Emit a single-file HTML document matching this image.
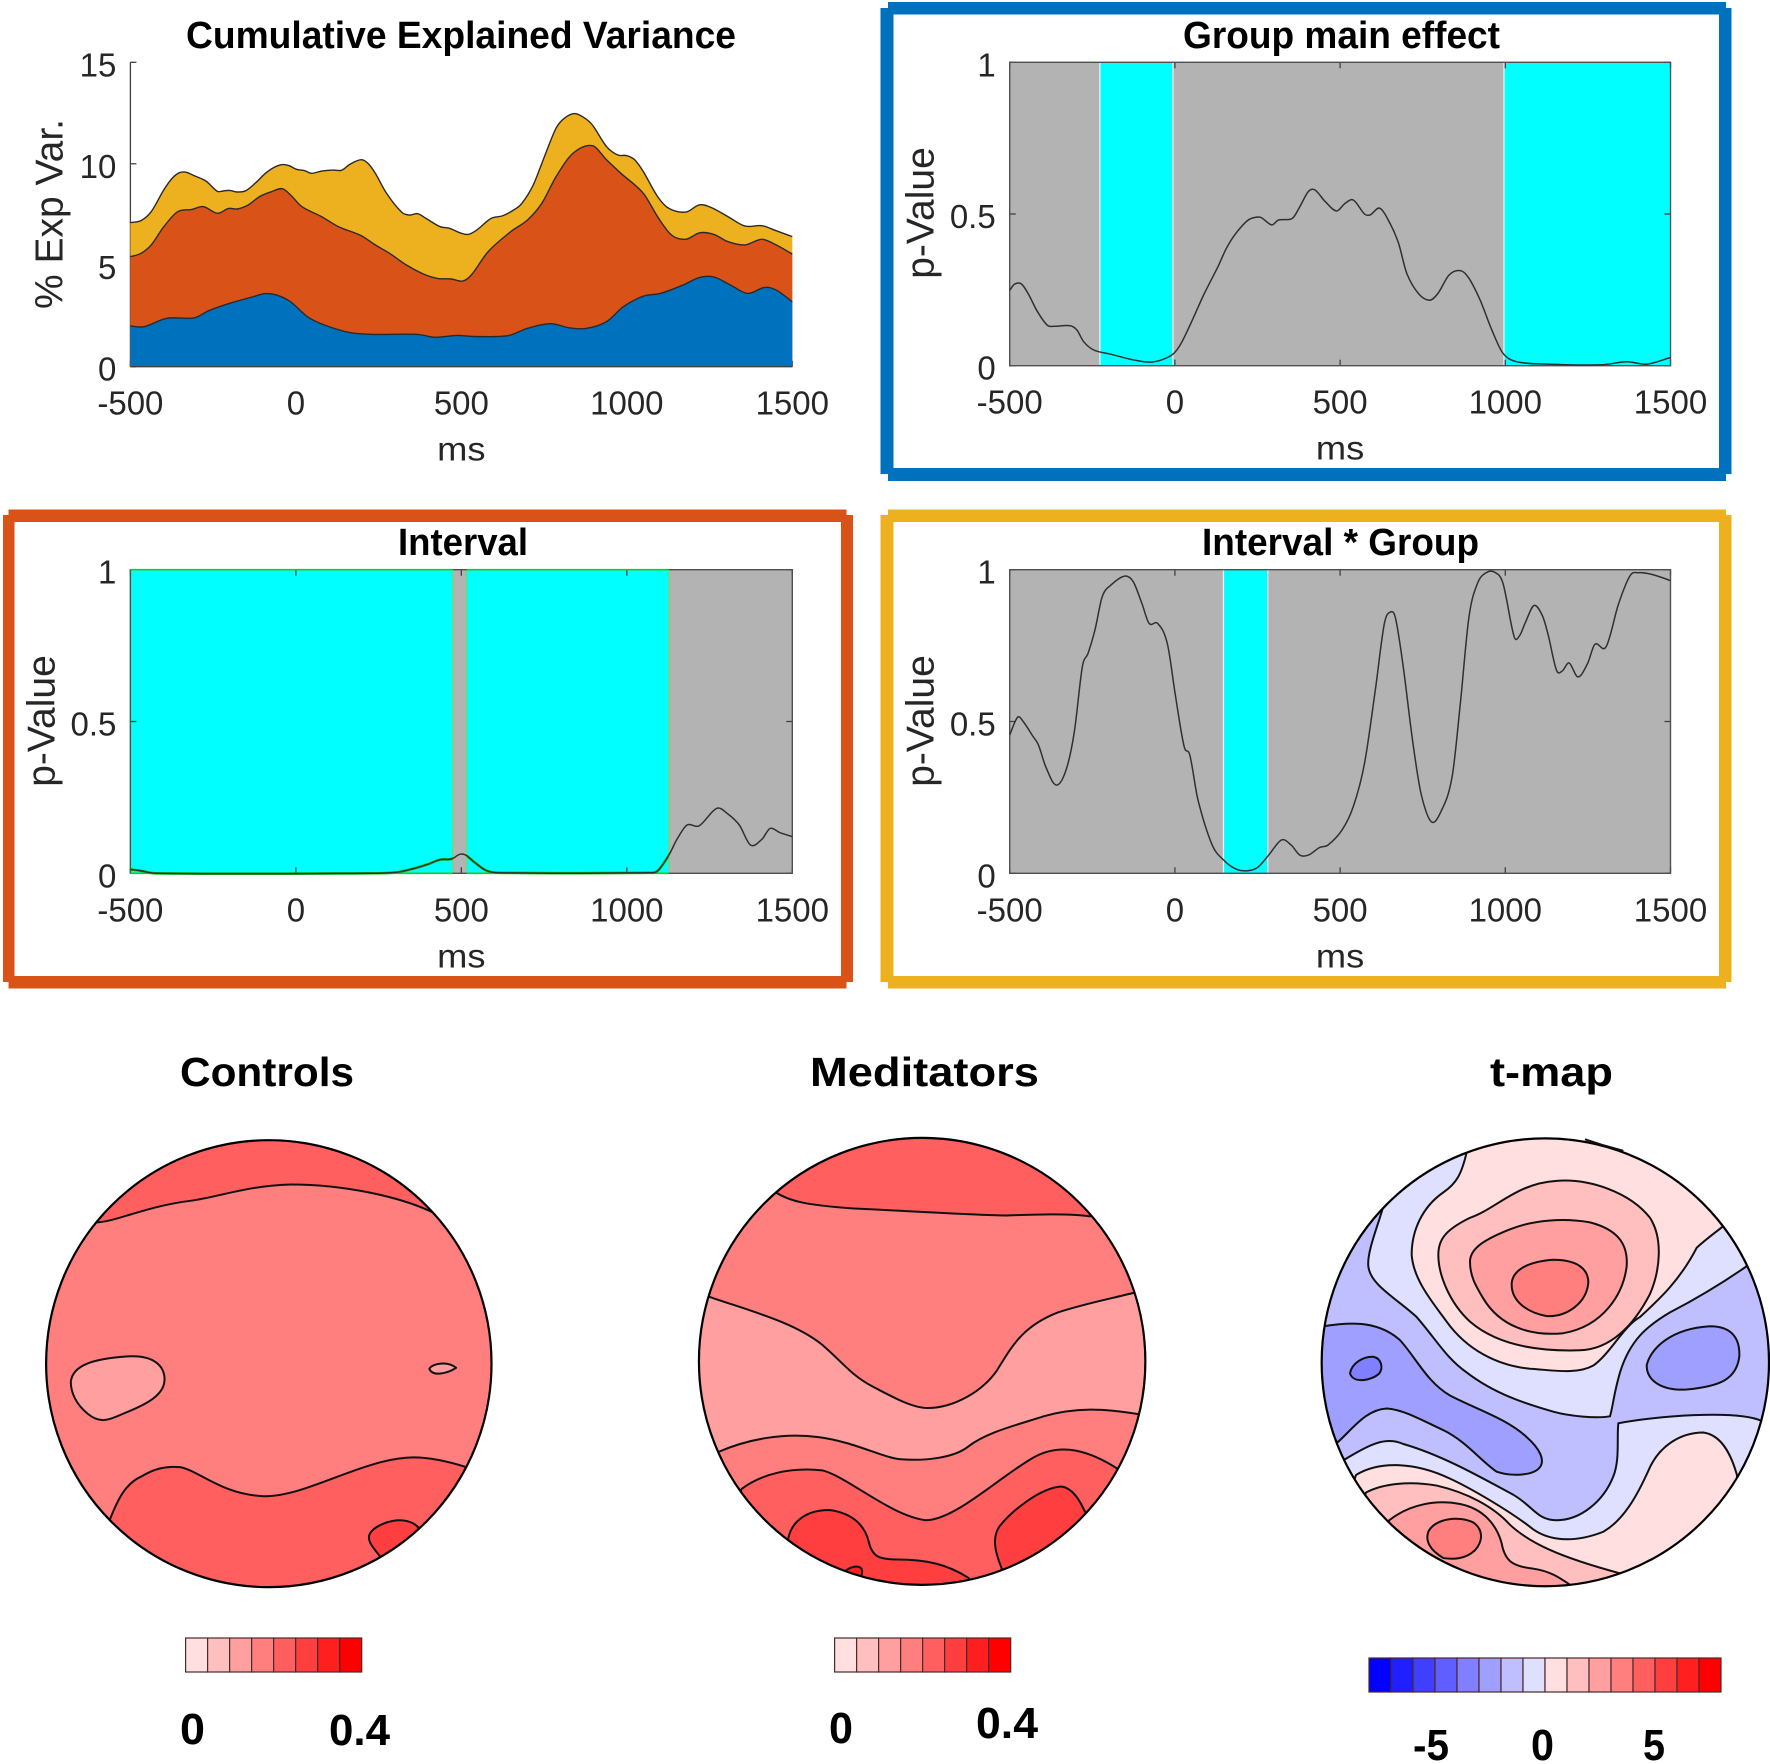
<!DOCTYPE html>
<html lang="en">
<head>
<meta charset="utf-8">
<title>Cumulative explained variance and topographic maps</title>
<style>
html,body{margin:0;padding:0;background:#fff;}
svg{display:block;font-family:"Liberation Sans",Arial,sans-serif;}
.contour{stroke:#111;stroke-width:2;vector-effect:non-scaling-stroke;stroke-linejoin:round;}
.rim{fill:none;stroke:#000;stroke-width:2.2;vector-effect:non-scaling-stroke;}
</style>
</head>
<body>
<svg id="figure" xmlns="http://www.w3.org/2000/svg" width="1770" height="1764" viewBox="0 0 1770 1764">
  <rect x="0" y="0" width="1770" height="1764" fill="#fff"/>

  <g fill="#0072BD">
    <rect x="888" y="2" width="838" height="12.5"/>
    <rect x="888" y="468" width="838" height="13"/>
    <rect x="880.5" y="8" width="13" height="466"/>
    <rect x="1719" y="8" width="12.5" height="466"/>
  </g>
  <g fill="#D95319">
    <rect x="8.5" y="509.5" width="838" height="12.5"/>
    <rect x="8.5" y="976" width="838" height="12.5"/>
    <rect x="3" y="515" width="11.5" height="467"/>
    <rect x="841" y="515" width="12" height="467"/>
  </g>
  <g fill="#EDB120">
    <rect x="888" y="509.5" width="838" height="12.5"/>
    <rect x="888" y="976" width="838" height="12.5"/>
    <rect x="880.5" y="515" width="13" height="467"/>
    <rect x="1719" y="515" width="12.5" height="467"/>
  </g>

  <g id="charts"></g>

  <defs>
    <clipPath id="clip-controls"><ellipse cx="702.5" cy="701" rx="582" ry="484"/></clipPath>
    <clipPath id="clip-meditators"><ellipse cx="790" cy="696" rx="625" ry="484"/></clipPath>
    <clipPath id="clip-tmap"><ellipse cx="826" cy="698" rx="671" ry="485"/></clipPath>
  </defs>

  <g transform="translate(0,1040) scale(0.38265,0.46173)">
    <g clip-path="url(#clip-controls)">
      <ellipse cx="702.5" cy="701" rx="582" ry="484" fill="#FF7F7F"/>
      <path class="contour" fill="#FF5F5F" d="M250,395 C300,395 380,360 500,348 C570,340 650,315 760,313 C900,313 1050,340 1135,375 L1400,100 L0,100 Z"/>
      <path class="contour" fill="#FF5F5F" d="M288,1037 C310,990 330,960 370,945 C400,930 430,922 470,925 C520,932 580,985 690,988 C800,990 950,905 1080,904 C1130,904 1180,915 1218,925 L1500,1300 L0,1300 Z"/>
      <path class="contour" fill="#FF3F3F" d="M993,1118 C970,1095 955,1080 970,1065 C990,1045 1060,1025 1095,1057 L1300,1300 L800,1400 Z"/>
      <path class="contour" fill="#FF9F9F" d="M185,740 C190,705 240,690 340,685 C400,683 430,705 430,735 C430,770 380,790 320,810 C280,825 260,830 230,810 C200,790 185,765 185,740 Z"/>
      <path class="contour" fill="#FF9F9F" d="M1122,712 C1130,700 1170,695 1192,710 C1170,722 1130,730 1122,712 Z"/>
    </g>
    <ellipse class="rim" cx="702.5" cy="701" rx="582" ry="484"/>
  </g>

  <g transform="translate(640,1040) scale(0.35714,0.46173)">
    <g clip-path="url(#clip-meditators)">
      <ellipse cx="790" cy="696" rx="625" ry="484" fill="#FF7F7F"/>
      <path class="contour" fill="#FF5F5F" d="M380,330 C420,350 470,358 600,365 C800,372 950,380 1030,380 C1100,378 1200,375 1260,382 L1500,100 L100,100 Z"/>
      <path class="contour" fill="#FF9F9F" d="M190,555 C300,585 430,610 510,660 C570,700 590,725 650,750 C700,770 760,797 805,797 C880,797 960,760 1000,715 C1040,665 1070,620 1170,590 C1250,570 1320,560 1380,548 L1600,548 L1600,810 L1393,810 C1300,798 1220,795 1130,815 C1050,835 970,850 920,880 C880,905 800,912 730,908 C680,905 600,870 500,860 C400,850 300,865 220,892 L0,892 L0,555 Z"/>
      <path class="contour" fill="#FF5F5F" d="M285,972 C340,940 420,925 510,932 C580,945 700,1030 800,1040 C880,1040 1000,950 1100,905 C1180,870 1260,890 1340,930 L1500,1300 L100,1300 Z"/>
      <path class="contour" fill="#FF3F3F" d="M415,1080 C425,1040 470,1018 530,1018 C600,1025 630,1055 640,1085 C650,1120 670,1125 720,1125 C800,1125 860,1135 920,1165 L1000,1300 L300,1300 Z"/>
      <path class="contour" fill="#FF3F3F" d="M1012,1143 C995,1110 985,1080 1005,1055 C1040,1020 1120,970 1180,967 C1210,970 1230,995 1245,1020 L1400,1300 L1050,1300 Z"/>
      <path class="contour" fill="#FF1F1F" d="M575,1150 C590,1140 620,1135 622,1150 C622,1158 620,1160 618,1165 Z"/>
    </g>
    <ellipse class="rim" cx="790" cy="696" rx="625" ry="484"/>
  </g>

  <g transform="translate(1270,1040) scale(0.33333,0.46173)">
    <g clip-path="url(#clip-tmap)">
      <ellipse cx="826" cy="698" rx="671" ry="485" fill="#DFDFFF"/>
      <path class="contour" fill="#BFBFFF" d="M340,360 C325,400 290,460 295,490 C300,530 380,560 440,600 C500,650 530,690 590,720 C680,770 780,790 850,805 C900,815 980,820 1020,815 C1030,790 1030,770 1050,720 C1080,650 1130,620 1200,590 C1280,560 1350,530 1430,490 L1600,490 L1600,825 L1475,825 C1400,800 1150,815 1045,830 C1040,860 1050,910 1030,945 C1000,1000 930,1040 860,1040 C800,1040 790,1010 730,985 C640,950 520,900 400,875 C340,855 280,885 225,908 L0,908 L0,300 L200,300 Z"/>
      <path class="contour" fill="#9F9FFF" d="M160,620 C230,612 320,605 390,650 C440,690 470,740 540,770 C620,800 710,820 770,860 C810,885 825,910 810,925 C790,945 720,945 680,935 C630,910 590,870 520,845 C460,825 400,800 350,798 C290,800 250,840 205,870 L0,870 L0,620 Z"/>
      <path class="contour" fill="#7F7FFF" d="M240,722 C245,700 280,685 310,686 C335,690 340,710 328,722 C305,738 250,745 240,722 Z"/>
      <path class="contour" fill="#9F9FFF" d="M1130,705 C1140,670 1200,625 1320,620 C1390,620 1410,650 1408,685 C1400,735 1350,750 1250,757 C1180,760 1130,740 1130,705 Z"/>
      <path class="contour" fill="#FFDFDF" d="M590,243 C575,290 560,310 520,330 C460,360 425,410 425,465 C430,520 490,570 530,610 C590,670 680,705 780,712 C850,715 920,725 970,705 C1020,680 1060,620 1110,600 C1170,560 1230,520 1280,450 C1310,430 1340,415 1360,403 L1500,200 L700,100 Z"/>
      <path class="contour" fill="#FFBFBF" d="M505,465 C505,430 530,410 600,385 C680,365 740,310 860,305 C960,300 1080,330 1140,385 C1180,430 1170,500 1140,550 C1090,620 1020,670 930,672 C800,675 680,660 600,610 C540,570 505,510 505,465 Z"/>
      <path class="contour" fill="#FF9F9F" d="M600,480 C600,450 650,430 720,410 C790,390 880,385 960,395 C1040,410 1075,440 1070,490 C1060,550 1000,620 880,635 C780,642 690,620 640,560 C615,530 600,510 600,480 Z"/>
      <path class="contour" fill="#FF7F7F" d="M725,530 C725,500 770,480 850,476 C920,476 955,495 955,525 C950,570 890,600 830,598 C770,590 725,565 725,530 Z"/>
      <path class="contour" fill="#FFDFDF" d="M1400,940 C1380,890 1350,855 1300,850 C1230,850 1170,880 1140,925 C1100,990 1060,1040 1000,1065 C930,1085 850,1090 790,1060 C720,1020 600,970 540,950 C440,915 330,910 258,942 L100,1300 L1500,1300 Z"/>
      <path class="contour" fill="#FFBFBF" d="M288,980 C340,960 420,955 500,965 C590,980 670,1010 720,1050 C780,1090 870,1120 1050,1155 L1300,1300 L100,1300 Z"/>
      <path class="contour" fill="#FF9F9F" d="M358,1040 C420,1005 500,995 570,1005 C640,1015 680,1050 695,1090 C705,1130 730,1140 790,1145 C840,1150 870,1165 900,1180 L1000,1300 L200,1300 Z"/>
      <path class="contour" fill="#FF7F7F" d="M520,1122 C480,1105 465,1085 475,1065 C495,1035 570,1030 610,1045 C640,1060 640,1085 615,1105 C585,1125 550,1125 520,1122 Z"/>
    </g>
    <ellipse class="rim" cx="826" cy="698" rx="671" ry="485"/>
    <path class="contour" fill="none" d="M945,215 L1000,228 L1060,240"/>
  </g>

  <text x="180" y="1086" font-size="41" font-weight="700" textLength="174" lengthAdjust="spacingAndGlyphs">Controls</text>
  <text x="810" y="1086" font-size="41" font-weight="700" textLength="229" lengthAdjust="spacingAndGlyphs">Meditators</text>
  <text x="1490" y="1086" font-size="41" font-weight="700" textLength="123" lengthAdjust="spacingAndGlyphs">t-map</text>

  <g id="colorbars"></g>

  <text x="180" y="1744" font-size="44" font-weight="700" textLength="25" lengthAdjust="spacingAndGlyphs">0</text>
  <text x="329" y="1745" font-size="44" font-weight="700" textLength="61" lengthAdjust="spacingAndGlyphs">0.4</text>
  <text x="829" y="1743" font-size="44" font-weight="700" textLength="24" lengthAdjust="spacingAndGlyphs">0</text>
  <text x="976" y="1738" font-size="44" font-weight="700" textLength="62" lengthAdjust="spacingAndGlyphs">0.4</text>
  <text x="1413" y="1760" font-size="44" font-weight="700" textLength="36" lengthAdjust="spacingAndGlyphs">-5</text>
  <text x="1531" y="1760" font-size="44" font-weight="700" textLength="23" lengthAdjust="spacingAndGlyphs">0</text>
  <text x="1643" y="1760" font-size="44" font-weight="700" textLength="22" lengthAdjust="spacingAndGlyphs">5</text>
</svg>

<script>
// Axis tick labels
const timeTicks = [-500, 0, 500, 1000, 1500];
const varianceTicks = [0, 5, 10, 15];
const pValueTicks = [0, 0.5, 1];

// Cumulative explained variance: boundaries
const blueMs = [-500,-459,-391,-306,-263,-195,-135,-92,-58,-16,35,87,163,231,368,419,487,538,641,700,769,828,879,939,990,1050,1101,1169,1220,1263,1314,1365,1417,1451,1500];
const blueTop = [2.00,1.97,2.38,2.41,2.76,3.15,3.42,3.60,3.53,3.20,2.46,2.05,1.68,1.59,1.59,1.45,1.54,1.49,1.53,1.89,2.12,1.91,1.89,2.22,2.96,3.48,3.61,4.02,4.40,4.42,4.02,3.61,3.91,3.78,3.20];
const orangeMs = [-500,-468,-437,-399,-357,-314,-280,-237,-203,-178,-144,-110,-75,-41,-16,18,78,129,197,240,283,334,385,428,470,504,530,581,649,700,743,786,837,896,939,982,1050,1093,1135,1178,1220,1263,1306,1357,1408,1451,1500];
const orangeTop = [5.42,5.59,6.00,6.90,7.64,7.75,7.89,7.56,7.80,7.77,7.97,8.38,8.62,8.77,8.46,7.89,7.39,6.90,6.46,6.00,5.59,5.01,4.57,4.35,4.32,4.22,4.52,5.67,6.65,7.23,8.05,9.36,10.51,10.89,10.19,9.53,8.54,7.39,6.49,6.28,6.60,6.52,6.16,6.00,6.28,6.00,5.55];
const yellowMs = [-500,-468,-437,-399,-374,-352,-331,-306,-272,-237,-220,-200,-178,-152,-123,-92,-67,-41,-21,1,27,47,78,112,138,163,197,218,240,274,320,342,368,393,436,462,496,521,547,590,624,658,683,717,751,786,811,842,871,896,939,973,999,1024,1050,1093,1127,1178,1220,1254,1306,1357,1408,1451,1500];
const yellowTop = [7.10,7.20,7.64,8.71,9.28,9.56,9.58,9.40,9.15,8.64,8.66,8.69,8.61,8.67,9.04,9.53,9.81,9.96,9.91,9.73,9.66,9.53,9.64,9.69,9.68,9.97,10.20,10.02,9.53,8.54,7.61,7.47,7.54,7.31,6.90,6.83,6.60,6.52,6.74,7.31,7.43,7.72,8.05,8.95,10.35,11.75,12.24,12.47,12.27,11.91,10.84,10.43,10.40,10.19,9.61,8.38,7.80,7.62,7.98,7.85,7.39,6.93,6.95,6.70,6.41];

// Group main effect p-values
const groupMs = [-500,-485,-464,-442,-416,-386,-365,-317,-297,-276,-246,-194,-126,-75,-41,-6,19,53,87,130,156,181,216,233,259,293,313,356,378,404,424,455,489,515,540,574,591,620,651,677,702,737,771,796,830,865,890,924,959,993,1035,1138,1292,1368,1428,1500];
const groupP = [.249,.269,.269,.233,.178,.133,.130,.132,.118,.079,.052,.038,.019,.012,.019,.038,.074,.151,.233,.326,.387,.431,.475,.486,.489,.464,.480,.486,.524,.574,.579,.541,.510,.535,.546,.500,.497,.519,.469,.403,.304,.238,.216,.238,.299,.313,.288,.216,.118,.041,.013,.005,.003,.013,.005,.027];
const groupSignificantStart = [-227, 996];
const groupSignificantEnd = [-6, 1500];

// Interval p-values
const intervalMs = [-500,-468,-425,214,300,351,402,436,470,496,513,538,572,607,1067,1093,1127,1153,1182,1218,1272,1306,1340,1374,1408,1433,1462,1500];
const intervalP = [.013,.008,0,0,.003,.014,.031,.045,.047,.063,.060,.038,.011,.002,.002,.008,.060,.115,.159,.156,.214,.195,.159,.093,.112,.148,.134,.121];
const intervalSignificantStart = [-500, 516];
const intervalSignificantEnd = [474, 1127];

// Interval * Group p-values
const interactionMs = [-500,-476,-459,-430,-413,-391,-360,-331,-305,-280,-263,-242,-220,-194,-152,-126,-100,-78,-52,-23,2,28,45,70,113,147,181,216,250,284,323,352,378,404,438,463,506,540,574,608,634,653,668,691,719,745,776,805,839,865,890,916,942,967,993,1027,1044,1061,1087,1112,1129,1155,1172,1193,1220,1249,1271,1305,1343,1378,1403,1446,1500];
const interactionP = [.456,.514,.500,.452,.423,.351,.291,.335,.461,.681,.724,.801,.911,.949,.979,.960,.889,.823,.823,.757,.582,.417,.390,.241,.093,.044,.016,.008,.019,.060,.110,.093,.060,.060,.085,.093,.143,.220,.362,.615,.823,.861,.839,.681,.439,.263,.170,.203,.318,.571,.845,.955,.990,.992,.955,.779,.784,.827,.882,.849,.789,.669,.666,.693,.647,.691,.754,.746,.888,.981,.990,.984,.964];
const interactionSignificantStart = [147];
const interactionSignificantEnd = [281];

// Colorbar level colours
const redLevels = ['#FFDFDF','#FFBFBF','#FF9F9F','#FF7F7F','#FF5F5F','#FF3F3F','#FF1F1F','#FF0000'];
const blueLevels = ['#0000FF','#1F1FFF','#3F3FFF','#5F5FFF','#7F7FFF','#9F9FFF','#BFBFFF','#DFDFFF'];

const NS = 'http://www.w3.org/2000/svg';
const chartsRoot = document.getElementById('charts');
const colorbarsRoot = document.getElementById('colorbars');

function xScale(ax, ms) {
  return ax.left + (ms + 500) / 2000 * (ax.right - ax.left);
}
function yScale(ax, v) {
  return ax.bottom - v / ax.max * (ax.bottom - ax.top);
}
function shape(parent, tag, name, attrs) {
  const el = document.createElementNS(NS, tag);
  
  
  for (const k in attrs) el.setAttribute(k, attrs[k]);
  parent.appendChild(el);
  return el;
}
function label(parent, name, str, attrs) {
  const el = shape(parent, 'text', name, attrs);
  el.textContent = str;
  return el;
}
// Smooth curve through the read values (Hermite tangents from neighbouring samples)
function curvePath(ax, msArr, valArr) {
  const xs = msArr.map(function (m) { return xScale(ax, m); });
  const ys = valArr.map(function (v) { return yScale(ax, v); });
  const n = xs.length;
  const slope = xs.map(function (x, i) {
    const a = Math.max(i - 1, 0);
    const b = Math.min(i + 1, n - 1);
    return (ys[b] - ys[a]) / (xs[b] - xs[a]);
  });
  let d = 'M' + xs[0].toFixed(1) + ',' + ys[0].toFixed(1);
  for (let i = 0; i < n - 1; i++) {
    const h = (xs[i + 1] - xs[i]) / 3;
    d += ' C' + (xs[i] + h).toFixed(1) + ',' + (ys[i] + slope[i] * h).toFixed(1) + ' ' +
      (xs[i + 1] - h).toFixed(1) + ',' + (ys[i + 1] - slope[i + 1] * h).toFixed(1) + ' ' +
      xs[i + 1].toFixed(1) + ',' + ys[i + 1].toFixed(1);
  }
  return d;
}

function drawFurniture(ax, g, opts) {
  // title
  label(g, opts.id + '-title', opts.title, {
    x: opts.titleX, y: opts.titleY, 'font-size': 38, 'font-weight': 700,
    textLength: opts.titleW, lengthAdjust: 'spacingAndGlyphs', fill: '#000'
  });
  // x ticks
  timeTicks.forEach(function (t) {
    const x = xScale(ax, t);
    shape(g, 'line', opts.id + '-x-tick', { x1: x, x2: x, y1: ax.bottom, y2: ax.bottom - 6, stroke: '#404040', 'stroke-width': 1.3 });
    if (opts.box) shape(g, 'line', opts.id + '-x-tick-top', { x1: x, x2: x, y1: ax.top, y2: ax.top + 6, stroke: '#404040', 'stroke-width': 1.3 });
    label(g, opts.id + '-x-tick-label', String(t), {
      x: x, y: ax.bottom + 48,
      'font-size': 33, 'text-anchor': 'middle', fill: '#262626'
    });
  });
  // y ticks
  opts.yTicks.forEach(function (v) {
    const y = yScale(ax, v);
    shape(g, 'line', opts.id + '-y-tick', { x1: ax.left, x2: ax.left + 6, y1: y, y2: y, stroke: '#404040', 'stroke-width': 1.3 });
    if (opts.box) shape(g, 'line', opts.id + '-y-tick-right', { x1: ax.right, x2: ax.right - 6, y1: y, y2: y, stroke: '#404040', 'stroke-width': 1.3 });
    label(g, opts.id + '-y-tick-label', String(v), {
      x: ax.left - 14, y: y + 14,
      'font-size': 33, 'text-anchor': 'end', fill: '#262626'
    });
  });
  // axis lines
  if (opts.box) {
    shape(g, 'rect', opts.id + '-axes-box', { x: ax.left, y: ax.top, width: ax.right - ax.left, height: ax.bottom - ax.top, fill: 'none', stroke: '#505050', 'stroke-width': 1.4 });
  } else {
    shape(g, 'line', opts.id + '-y-axis', { x1: ax.left, x2: ax.left, y1: ax.top, y2: ax.bottom, stroke: '#404040', 'stroke-width': 1.3 });
  }
  // axis titles
  label(g, opts.id + '-x-axis-title', 'ms', {
    transform: 'translate(' + ((ax.left + ax.right) / 2) + ',' + (ax.bottom + 94) + ') scale(1.1,1)',
    'font-size': 33, 'text-anchor': 'middle', fill: '#262626'
  });
  label(g, opts.id + '-y-axis-title', opts.yLabel, {
    transform: 'translate(' + opts.yLabelX + ',' + opts.yLabelY + ') rotate(-90)',
    'font-size': 39, 'text-anchor': 'middle', fill: '#262626'
  });
}

function drawPValuePanel(ax, opts) {
  const g = shape(chartsRoot, 'g', opts.id + '-panel', {});
  shape(g, 'rect', opts.id + '-plot-background', { x: ax.left, y: ax.top, width: ax.right - ax.left, height: ax.bottom - ax.top, fill: '#B3B3B3' });
  opts.starts.forEach(function (s, i) {
    const x0 = xScale(ax, s);
    const x1 = xScale(ax, opts.ends[i]);
    shape(g, 'rect', opts.id + '-significant-window', { x: x0, y: ax.top, width: x1 - x0, height: ax.bottom - ax.top, fill: '#00FFFF' });
    shape(g, 'line', opts.id + '-window-edge', { x1: x0, x2: x0, y1: ax.top, y2: ax.bottom, stroke: opts.edge, 'stroke-width': 1.3 });
    shape(g, 'line', opts.id + '-window-edge', { x1: x1, x2: x1, y1: ax.top, y2: ax.bottom, stroke: opts.edge, 'stroke-width': 1.3 });
  });
  drawFurniture(ax, g, opts);
  if (opts.green) {
    opts.starts.forEach(function (s, i) {
      const x0 = xScale(ax, s);
      const x1 = xScale(ax, opts.ends[i]);
      shape(g, 'line', opts.id + '-window-top-edge', { x1: x0, x2: x1, y1: ax.top, y2: ax.top, stroke: '#22C822', 'stroke-width': 1.6 });
      shape(g, 'line', opts.id + '-window-bottom-edge', { x1: x0, x2: x1, y1: ax.bottom, y2: ax.bottom, stroke: '#22C822', 'stroke-width': 1.6 });
    });
    shape(g, 'path', opts.id + '-p-value-glow', { d: curvePath(ax, opts.ms, opts.p), fill: 'none', stroke: '#10C010', 'stroke-width': 2.6, 'clip-path': 'url(#' + opts.id + '-clip)' });
    const defs = shape(g, 'clipPath', opts.id + '-clip-region', { id: opts.id + '-clip' });
    opts.starts.forEach(function (s, i) {
      const x0 = xScale(ax, s);
      const x1 = xScale(ax, opts.ends[i]);
      shape(defs, 'rect', opts.id + '-clip-window', { x: x0, y: ax.top - 3, width: x1 - x0, height: ax.bottom - ax.top + 6 });
    });
  }
  shape(g, 'path', opts.id + '-p-value-line', { d: curvePath(ax, opts.ms, opts.p), fill: 'none', stroke: '#303030', 'stroke-width': 1.5, 'stroke-linejoin': 'round' });
}

// Cumulative explained variance panel
(function () {
  const ax = { left: 130.4, right: 792.3, top: 62.3, bottom: 366.7, max: 15 };
  const g = shape(chartsRoot, 'g', 'variance-panel', {});
  drawFurniture(ax, g, {
    id: 'variance', title: 'Cumulative Explained Variance', titleX: 186, titleY: 48, titleW: 550,
    yTicks: varianceTicks, box: false, yLabel: '% Exp Var.', yLabelX: 62.5, yLabelY: 214
  });
  const layers = [
    { name: 'interaction-variance-area', ms: yellowMs, v: yellowTop, fill: '#EDB120' },
    { name: 'interval-variance-area', ms: orangeMs, v: orangeTop, fill: '#D95319' },
    { name: 'group-variance-area', ms: blueMs, v: blueTop, fill: '#0072BD' }
  ];
  layers.forEach(function (l) {
    const curve = curvePath(ax, l.ms, l.v);
    const close = ' L' + xScale(ax, 1500) + ',' + yScale(ax, 0) + ' L' + xScale(ax, -500) + ',' + yScale(ax, 0) + ' Z';
    shape(g, 'path', l.name, { d: curve + close, fill: l.fill });
    shape(g, 'path', l.name + '-outline', { d: curve, fill: 'none', stroke: '#2a2a2a', 'stroke-width': 1.4, 'stroke-linejoin': 'round' });
  });
  shape(g, 'line', 'variance-x-axis', { x1: ax.left, x2: ax.right, y1: ax.bottom, y2: ax.bottom, stroke: '#404040', 'stroke-width': 1.3 });
})();

drawPValuePanel({ left: 1009.7, right: 1670.5, top: 62.3, bottom: 365.7, max: 1 }, {
  id: 'group-effect', title: 'Group main effect', titleX: 1183, titleY: 48, titleW: 317,
  yTicks: pValueTicks, box: true, yLabel: 'p-Value', yLabelX: 933.5, yLabelY: 213,
  ms: groupMs, p: groupP, starts: groupSignificantStart, ends: groupSignificantEnd, edge: '#EFEFEF', green: false
});
drawPValuePanel({ left: 130.4, right: 792.3, top: 569.7, bottom: 873.3, max: 1 }, {
  id: 'interval', title: 'Interval', titleX: 398, titleY: 555, titleW: 130,
  yTicks: pValueTicks, box: true, yLabel: 'p-Value', yLabelX: 54.5, yLabelY: 721,
  ms: intervalMs, p: intervalP, starts: intervalSignificantStart, ends: intervalSignificantEnd, edge: '#6FD86F', green: true
});
drawPValuePanel({ left: 1009.7, right: 1670.5, top: 569.7, bottom: 873.3, max: 1 }, {
  id: 'interaction', title: 'Interval * Group', titleX: 1202, titleY: 555, titleW: 277,
  yTicks: pValueTicks, box: true, yLabel: 'p-Value', yLabelX: 933.5, yLabelY: 721,
  ms: interactionMs, p: interactionP, starts: interactionSignificantStart, ends: interactionSignificantEnd, edge: '#EFEFEF', green: false
});

// Colorbars
function drawColorbar(name, colors, x0, x1, y0, y1) {
  const g = shape(colorbarsRoot, 'g', name, {});
  const w = (x1 - x0) / colors.length;
  colors.forEach(function (c, i) {
    shape(g, 'rect', name + '-swatch', { x: x0 + i * w, y: y0, width: w, height: y1 - y0, fill: c, stroke: '#4a2a2a', 'stroke-width': 1.2 });
  });
}
drawColorbar('controls-colorbar', redLevels, 185.6, 361.7, 1638, 1672);
drawColorbar('meditators-colorbar', redLevels, 834.6, 1010.7, 1638, 1672);
drawColorbar('t-map-colorbar', blueLevels.concat(redLevels), 1369, 1721, 1658, 1692);
</script>
</body>
</html>
